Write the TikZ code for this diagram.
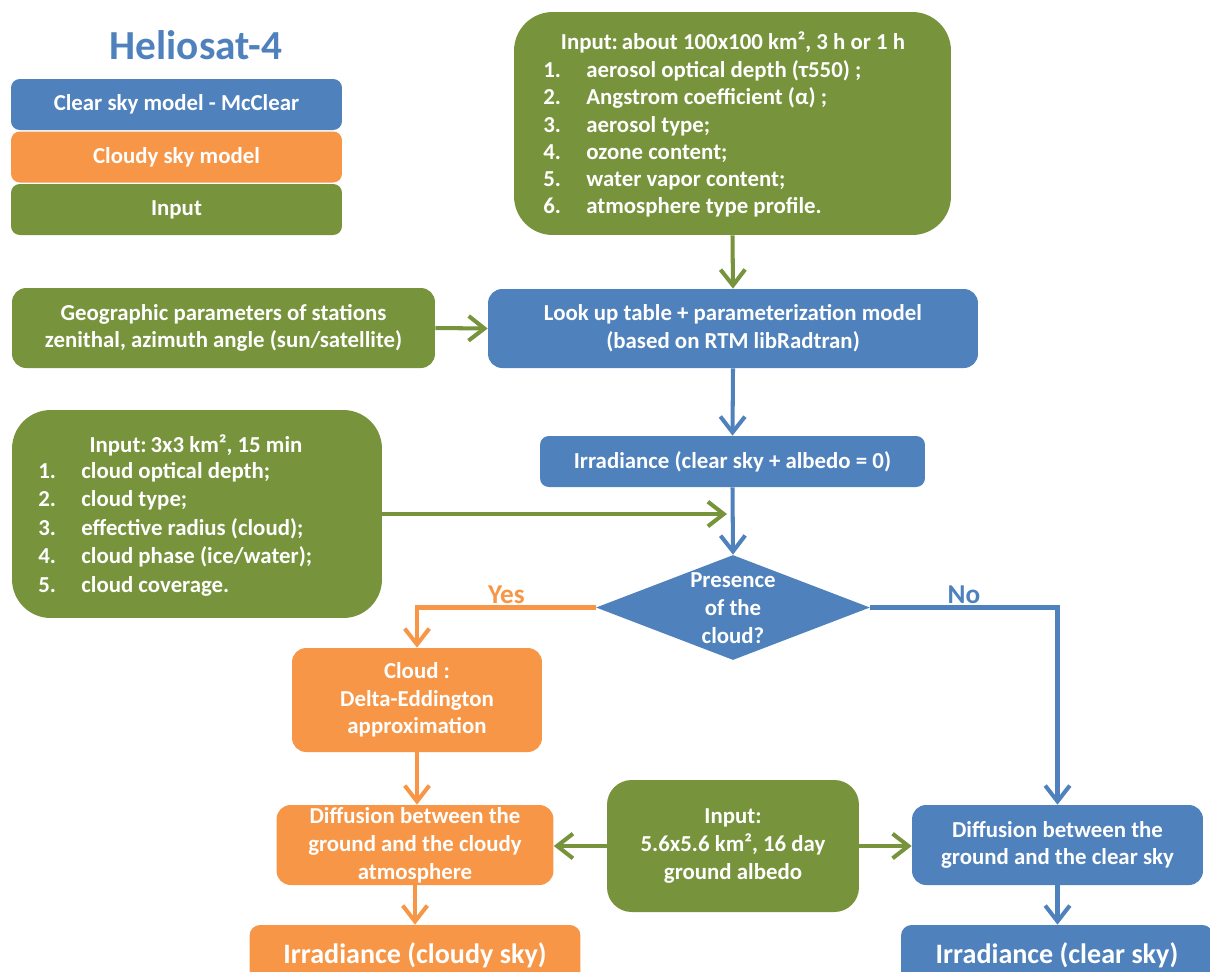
\documentclass[tikz,border=0pt]{standalone}
\usepackage{fontspec}
\setmainfont{Carlito}
\usetikzlibrary{arrows.meta,shapes.geometric}

\definecolor{hblue}{RGB}{79,129,189}
\definecolor{horange}{RGB}{247,150,70}
\definecolor{hgreen}{RGB}{119,147,60}

\newcommand{\numitem}[2]{\makebox[0.86cm][l]{#1}#2}

\tikzset{
  txt/.style={font=\bfseries\fontsize{13}{15.8}\selectfont},
  box/.style={txt, text=white, align=center, inner sep=0pt, rounded corners=8pt},
  bluebox/.style={box, fill=hblue},
  orangebox/.style={box, fill=horange},
  greenbox/.style={box, fill=hgreen},
  boxtext/.style={txt, text=white, inner sep=0pt},
  decision/.style={diamond, fill=hblue, inner sep=0pt, minimum width=5.48cm, minimum height=2.1cm},
  answer/.style={above, inner sep=1pt, font=\bfseries\fontsize{15.5}{18}\selectfont},
  flow/.style={line width=2.3pt, -{Straight Barb[length=9pt,width=14pt]}},
}

\begin{document}
\begin{tikzpicture}[x=0.02cm,y=-0.02cm]
    \useasboundingbox (0,0) rectangle (1210,971);
    \clip (0,0) rectangle (1210,971);

    % legend
    \node[font=\bfseries\fontsize{23.5}{28}\selectfont, text=hblue] (title) at (196,45) {Heliosat-4};
    \node[bluebox, rounded corners=5pt, minimum width=6.62cm, minimum height=1.02cm] (legclear) at (176.5,104.5) {Clear sky model - McClear};
    \node[orangebox, rounded corners=5pt, minimum width=6.62cm, minimum height=1.02cm] (legcloudy) at (176.5,157) {Cloudy sky model};
    \node[greenbox, rounded corners=5pt, minimum width=6.62cm, minimum height=1.02cm] (leginput) at (176.5,209.5) {Input};

    % atmosphere input
    \node[greenbox, rounded corners=22pt, minimum width=8.74cm, minimum height=4.46cm] (atmos) at (732.5,123.5) {};
    \node[boxtext] (atmos-head) at (733,42) {Input:\,about 100x100 km², 3 h or 1 h};
    \node[boxtext, anchor=west, align=left, font=\bfseries\fontsize{13}{15.5}\selectfont] (atmos-list) at (543,139) {%
        \numitem{1.}{aerosol optical depth (τ550) ;}\\
        \numitem{2.}{Angstrom coefficient (α) ;}\\
        \numitem{3.}{aerosol type;}\\
        \numitem{4.}{ozone content;}\\
        \numitem{5.}{water vapor content;}\\
        \numitem{6.}{atmosphere type profile.}};

    \node[greenbox, minimum width=8.46cm, minimum height=1.6cm] (geo) at (223.5,328) {Geographic parameters of stations\\zenithal, azimuth angle (sun/satellite)};
    \node[bluebox, minimum width=9.8cm, minimum height=1.58cm] (lut) at (733,328.5) {Look up table + parameterization model\\(based on RTM libRadtran)};
    \node[bluebox, rounded corners=5pt, minimum width=7.7cm, minimum height=1.02cm] (irrzero) at (732.5,461.5) {Irradiance (clear sky + albedo = 0)};

    % cloud input
    \node[greenbox, rounded corners=22pt, minimum width=7.4cm, minimum height=4.16cm] (cloudin) at (197,514) {};
    \node[boxtext] (cloudin-head) at (196,445) {Input:\,3x3 km², 15 min};
    \node[boxtext, anchor=west, align=left, font=\bfseries\fontsize{13}{16.2}\selectfont] (cloudin-list) at (38,529) {%
        \numitem{1.}{cloud optical depth;}\\
        \numitem{2.}{cloud type;}\\
        \numitem{3.}{effective radius (cloud);}\\
        \numitem{4.}{cloud phase (ice/water);}\\
        \numitem{5.}{cloud coverage.}};
    \coordinate (cloudin-end) at (727,514);

    \node[decision] (presence) at (733,607.5) {};
    \node[boxtext, align=center] (presence-text) at (733,608) {Presence\\of the\\cloud?};

    % cloudy branch
    \node[orangebox, minimum width=5cm, minimum height=2.08cm] (deltaedd) at (417,700) {Cloud :\\Delta-Eddington\\approximation};
    \node[orangebox, minimum width=5.54cm, minimum height=1.6cm] (diffcloudy) at (415,845) {Diffusion between the\\ground and the cloudy\\atmosphere};
    \node[orangebox, rounded corners=6pt, minimum width=6.62cm, minimum height=1.2cm, font=\bfseries\fontsize{16}{19}\selectfont] (irrcloudy) at (415,955) {Irradiance (cloudy sky)};

    \node[greenbox, rounded corners=14pt, minimum width=5.04cm, minimum height=2.64cm] (albedo) at (733,846) {Input:\\5.6x5.6 km², 16 day\\ground albedo};

    % clear branch
    \node[bluebox, minimum width=5.82cm, minimum height=1.6cm] (diffclear) at (1057.5,845) {Diffusion between the\\ground and the clear sky};
    \node[bluebox, rounded corners=6pt, minimum width=6.24cm, minimum height=1.2cm, font=\bfseries\fontsize{16}{19}\selectfont] (irrclear) at (1057,955) {Irradiance (clear sky)};

    % connectors
    \draw[flow, hgreen] (atmos.south) -- (lut.north);
    \draw[flow, hgreen] (geo.east) -- (lut.west);
    \draw[flow, hblue] (lut.south) -- (irrzero.north);
    \draw[flow, hblue] (irrzero.south) -- (presence.north);
    \draw[flow, hgreen] (cloudin.east) -- (cloudin-end);
    \draw[flow, horange] (presence.west) -| (deltaedd.north)
        node[pos=0.25, answer, text=horange] (yes) {Yes};
    \draw[flow, hblue] (presence.east) -| (diffclear.north)
        node[pos=0.25, answer, text=hblue] (no) {No};
    \draw[flow, horange] (deltaedd.south) -- (deltaedd.south |- diffcloudy.north);
    \draw[flow, horange] (diffcloudy.south) -- (diffcloudy.south |- irrcloudy.north);
    \draw[flow, hgreen] (albedo.west) -- (diffcloudy.east |- albedo.west);
    \draw[flow, hgreen] (albedo.east) -- (diffclear.west |- albedo.east);
    \draw[flow, hblue] (diffclear.south) -- (diffclear.south |- irrclear.north);
\end{tikzpicture}
\end{document}
